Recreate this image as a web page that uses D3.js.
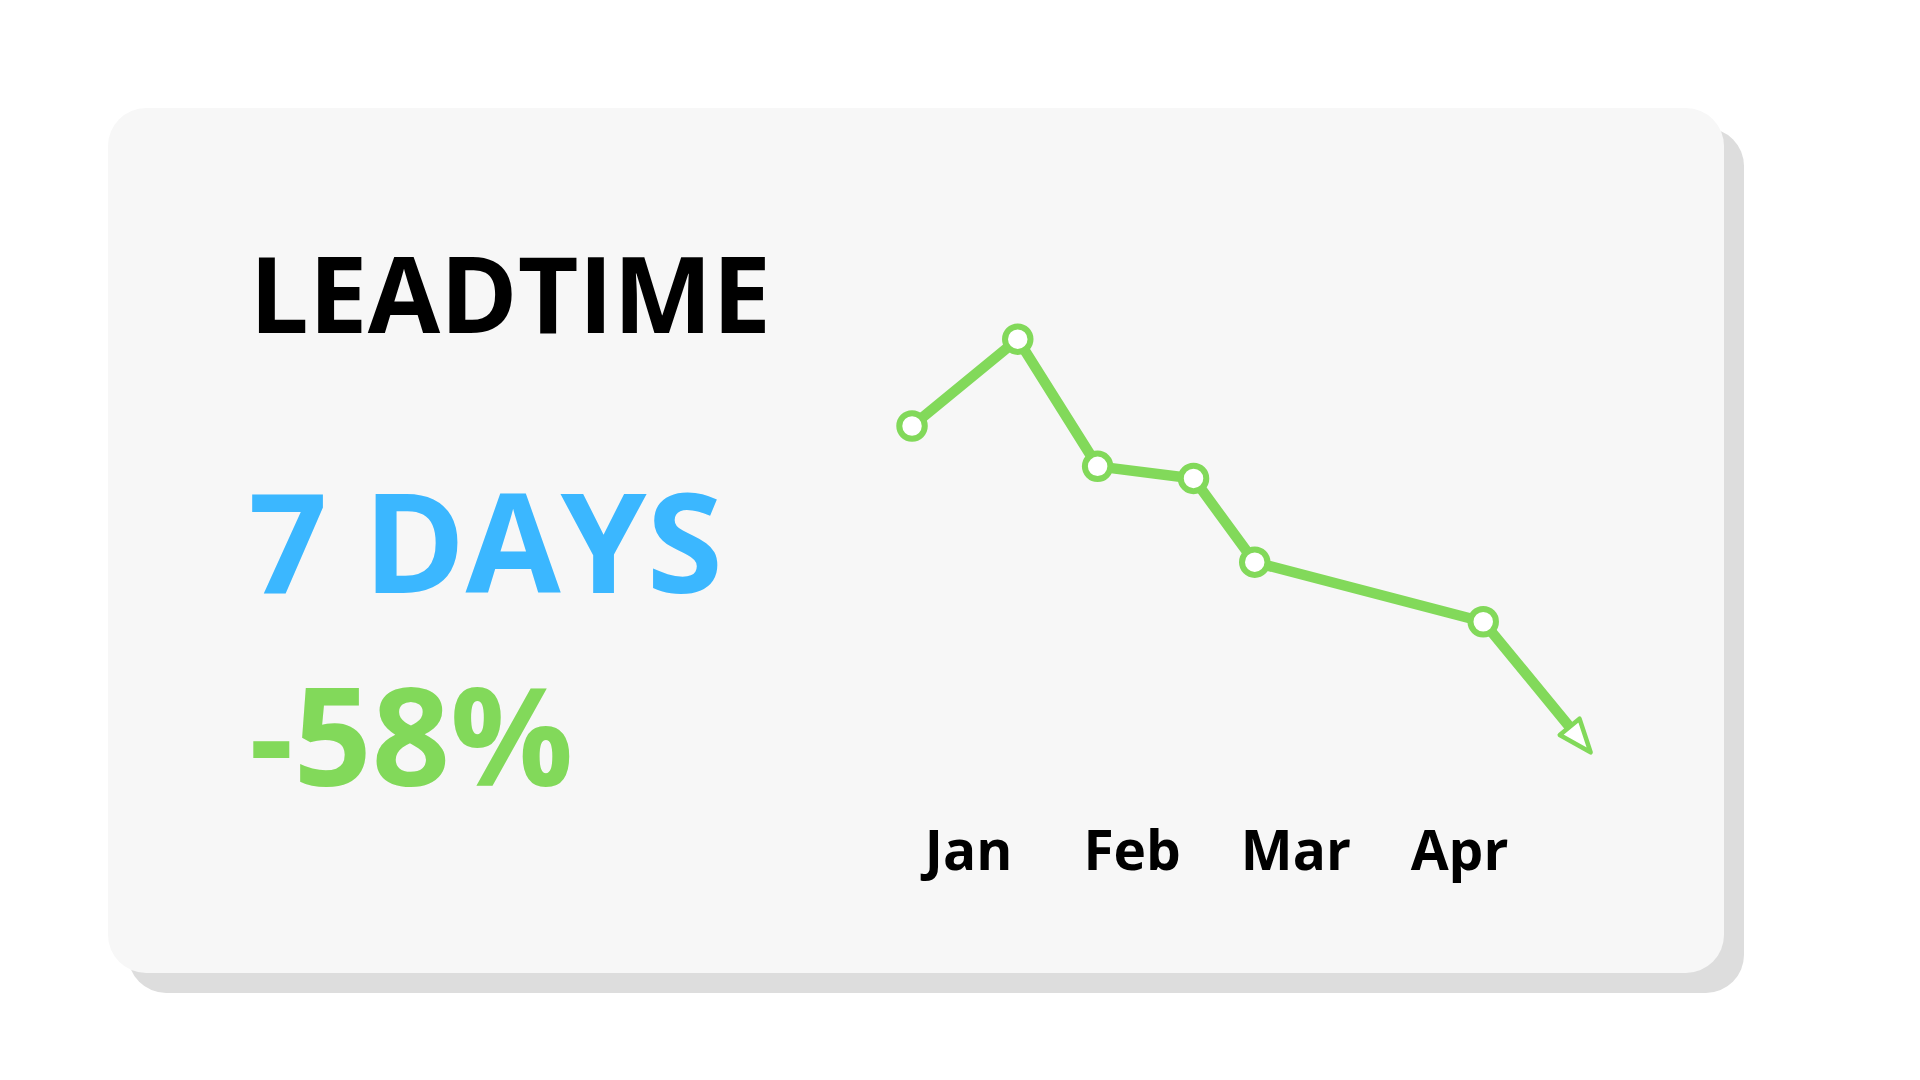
<!DOCTYPE html>
<html>
<head>
<meta charset="utf-8">
<script src="https://cdn.jsdelivr.net/npm/d3@7"></script>
<style>
  html, body { margin: 0; padding: 0; background: #ffffff; }
  svg { display: block; }
  text { font-family: "Open Sans", "Noto Sans", sans-serif; font-weight: 700; }
</style>
</head>
<body>
<svg id="chart" width="1920" height="1080"></svg>
<script>
// ---- data ----
const title = "LEADTIME";
const kpiValue = "7 DAYS";
const kpiChange = "-58%";
const months = ["Jan", "Feb", "Mar", "Apr"];
const monthIndex = [0, 1, 2, 3];
// lead time (days) over time (months from mid-Jan)
const pointT = [-0.342, 0.304, 0.792, 1.378, 1.752, 3.148];
const pointDays = [16.7, 21.0, 14.7, 14.1, 9.95, 7.0];
const trendT = 3.804;
const trendDays = 0.53;

// ---- layout ----
const svg = d3.select("#chart");
const green = "#82d95a";
const blue = "#3bb7ff";

// card shadow + card
svg.append("rect").attr("x", 128).attr("y", 128).attr("width", 1616).attr("height", 865)
  .attr("rx", 38).attr("fill", "#dddddd");
svg.append("rect").attr("x", 108).attr("y", 108).attr("width", 1616).attr("height", 865)
  .attr("rx", 38).attr("fill", "#f7f7f7");

// texts
svg.append("text").attr("x", 249.5).attr("y", 333).attr("font-size", 105).attr("fill", "#000")
  .text(title);
svg.append("text").attr("x", 248.5).attr("y", 593).attr("font-size", 138).attr("fill", blue)
  .text(kpiValue);
svg.append("text").attr("x", 249.3).attr("y", 786).attr("font-size", 137).attr("fill", green)
  .text(kpiChange);

// scales
const x = d3.scaleLinear().domain([0, 3]).range([968, 1459]);
const y = d3.scaleLinear().domain([0, 21]).range([763, 763 - 21 * 20.18]);

const pts = pointT.map((t, i) => [x(t), y(pointDays[i])]);
const tip = [x(trendT), y(trendDays)];
const last = pts[pts.length - 1];

// arrow geometry
const dx = tip[0] - last[0], dy = tip[1] - last[1];
const len = Math.hypot(dx, dy);
const ux = dx / len, uy = dy / len;
const headLen = 33, headHalf = 12.8;
const base = [tip[0] - ux * headLen, tip[1] - uy * headLen];

const g = svg.append("g");
g.append("path")
  .attr("d", d3.line()([...pts, base]))
  .attr("fill", "none").attr("stroke", green).attr("stroke-width", 10.5)
  .attr("stroke-linejoin", "round");

g.append("path")
  .attr("d", d3.line()([
    [base[0] - uy * headHalf, base[1] + ux * headHalf],
    tip,
    [base[0] + uy * headHalf, base[1] - ux * headHalf]
  ]) + "Z")
  .attr("fill", "#ffffff").attr("stroke", green).attr("stroke-width", 4.5)
  .attr("stroke-linejoin", "round");

g.selectAll("circle").data(pts).join("circle")
  .attr("cx", d => d[0]).attr("cy", d => d[1]).attr("r", 12.75)
  .attr("fill", "#ffffff").attr("stroke", green).attr("stroke-width", 6);

// x axis labels
const axis = d3.axisBottom(x).tickValues(monthIndex).tickFormat((d, i) => months[i]).tickSize(0).tickPadding(0);
const ax = svg.append("g").attr("transform", "translate(0,826)").call(axis);
ax.select(".domain").remove();
ax.selectAll("text").attr("font-size", 55).attr("fill", "#000")
  .attr("dy", null).attr("y", 44)
  .style("font-family", "'Open Sans', sans-serif").style("font-weight", 700);
</script>
</body>
</html>
